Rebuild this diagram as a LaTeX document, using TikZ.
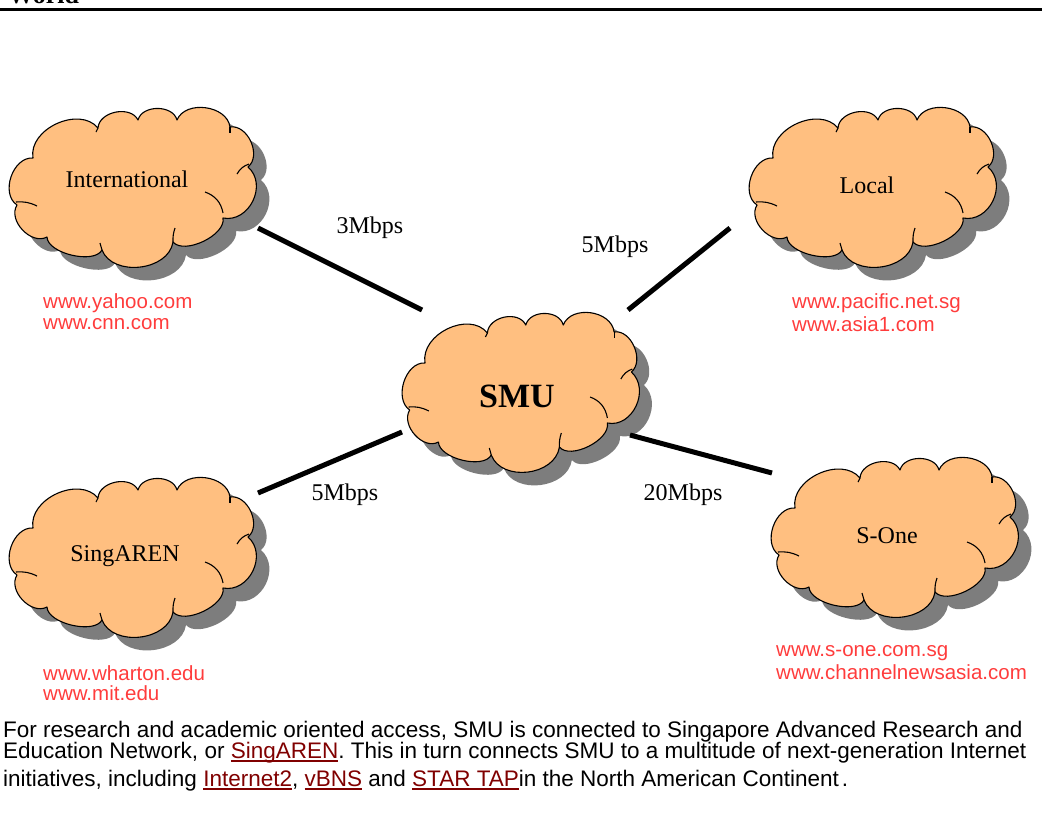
\documentclass[tikz,border=0pt]{standalone}
\usepackage{fontspec}
\setmainfont{Liberation Serif}
\setsansfont{Liberation Sans}
\usetikzlibrary{calc}
\pgfdeclarelayer{bg}
\pgfsetlayers{bg,main}
\definecolor{peach}{RGB}{255,191,128}
\definecolor{shadowgray}{RGB}{125,125,125}
\definecolor{urlred}{RGB}{255,60,60}
\definecolor{linkred}{RGB}{128,0,0}
\newlength\lnkw
\newcommand\lnk[1]{\settowidth\lnkw{#1}\textcolor{linkred}{\rlap{\rule[-3.5pt]{\lnkw}{1.8pt}}#1}}
\newcommand\cloudpath{(-100,-29) to[puff] (-35,-59) to[puff] (5,-67) to[puff] (44,-67)
  to[puff] (97,-60) to[puff] (115,-20) to[puff=1.2] (90,31) to[puff=0.8] (40,55)
  to[puff] (-31,63) to[puff=0.75] (-86,50) to[puff] (-116,18) to[puff] (-100,-29) -- cycle}
\newcommand\drawcloud[3][1]{%
  \begin{scope}[shift={($(#2.center)+(#3)$)}, xscale=#1]
    \fill[shadowgray] [shift={(13,13)}] \cloudpath;
    \path[cloudline, fill=peach] \cloudpath;
    \draw[cloudline] (116,-23) to[bend right=20] (104,-13);
    \draw[cloudline] (90,26) to[bend right=30] (72,5);
    \draw[cloudline] (-117,15) to[bend left=15] (-96,19);
    \draw[cloudline] (40,55) to[bend left=10] (42,41);
    \draw[cloudline] (-31,63) -- (-33,56);
    \draw[cloudline] (97,-60) -- (97,-54);
    \draw[cloudline] (-35,-59) -- (-37,-55);
  \end{scope}}
\tikzset{
  puff/.style={bend left=75, looseness=#1},
  puff/.default=1.05,
  cloudline/.style={draw=black, line width=1.1pt, line join=round},
  cloudlbl/.style={font=\fontsize{24}{28}\selectfont, inner sep=0pt},
  bwlbl/.style={font=\fontsize{24}{28}\selectfont, inner sep=0pt},
  url/.style={font=\sffamily\fontsize{20.5}{22}\selectfont, text=urlred, anchor=west, inner sep=0pt},
  para/.style={font=\sffamily\fontsize{22.5}{24}\selectfont, anchor=base west, inner sep=0pt},
  link/.style={line width=5pt, black},
}
\begin{document}
\begin{tikzpicture}[x=1pt,y=-1pt]
\useasboundingbox (0,0) rectangle (1042,831);
% header
\node[font=\bfseries\fontsize{26}{28}\selectfont, anchor=base west, inner sep=0pt] (world) at (8,3) {World};
\draw[line width=3pt] (0,9.5) -- (1042,9.5);
% cloud labels (nodes)
\node[cloudlbl] (intl) at (127,179) {International};
\node[cloudlbl] (local) at (867,185) {Local};
\node[cloudlbl, font=\bfseries\fontsize{34}{36}\selectfont] (smu) at (517,396) {SMU};
\node[cloudlbl] (sing) at (125,556) {SingAREN};
\node[cloudlbl] (sone) at (887,536) {S-One};
% cloud bodies
\begin{pgfonlayer}{bg}
\drawcloud{intl}{6,8}
\drawcloud{local}{6,2}
\drawcloud[0.96]{smu}{4,-4}
\drawcloud{sing}{8,1}
\drawcloud{sone}{8,1}
\end{pgfonlayer}
% connectors
\draw[link] ($(intl.center)+(131,49)$) -- ($(smu.center)+(-95,-86)$);
\draw[link] ($(local.center)+(-137,43)$) -- ($(smu.center)+(111,-86)$);
\draw[link] ($(sing.center)+(133,-63)$) -- ($(smu.center)+(-115,36)$);
\draw[link] ($(sone.center)+(-115,-63)$) -- ($(smu.center)+(113,39)$);
% bandwidth labels
\node[bwlbl] (bw1) at (370,228) {3Mbps};
\node[bwlbl] (bw2) at (615,247) {5Mbps};
\node[bwlbl] (bw3) at (345,495) {5Mbps};
\node[bwlbl] (bw4) at (683,495) {20Mbps};
% urls
\node[url] (u1) at (43,303) {www.yahoo.com};
\node[url] (u2) at (43,324) {www.cnn.com};
\node[url] (u3) at (792,303) {www.pacific.net.sg};
\node[url] (u4) at (792,324) {www.asia1.com};
\node[url] (u5) at (43,673) {www.wharton.edu};
\node[url] (u6) at (43,693) {www.mit.edu};
\node[url] (u7) at (776,653) {www.s-one.com.sg};
\node[url] (u8) at (776,672) {www.channelnewsasia.com};
% paragraph
\node[para] (p1) at (3,737) {For research and academic oriented access, SMU is connected to Singapore Advanced Research and};
\node[para] (p2) at (3,758) {Education Network, or \lnk{SingAREN}. This in turn connects SMU to a multitude of next-generation Internet};
\node[para] (p3) at (3,786) {initiatives, including \lnk{Internet2}, \lnk{vBNS} and \lnk{STAR TAP}in the North American Continent\hspace{3pt}.};
\end{tikzpicture}
\end{document}
